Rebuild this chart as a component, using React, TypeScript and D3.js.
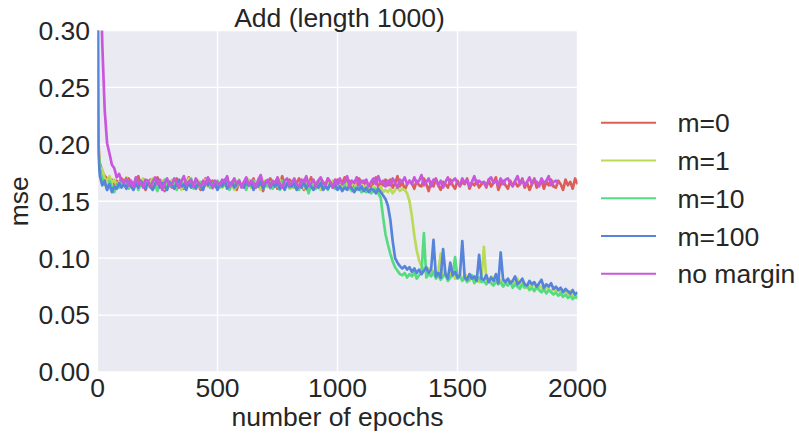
import * as d3 from 'd3';

// sample grid (epochs); values below are mse in thousandths
const epochs = [0, 2, 4, 6, 8, ...d3.range(10, 2001, 10)];

const m0 = [
  420, 260, 205, 192, 186,
  183, 176, 172, 170, 167, 169, 165, 168, 166, 170,
  168, 163, 170, 166, 161, 167, 172, 164, 166, 160,
  165, 169, 162, 167, 171, 163, 166, 159, 168, 164,
  162, 167, 170, 164, 168, 161, 166, 171, 163, 165,
  169, 164, 160, 166, 170, 165, 162, 168, 164, 167,
  163, 168, 165, 171, 162, 166, 169, 160, 167, 164,
  166, 161, 168, 164, 170, 163, 167, 165, 159, 168,
  164, 170, 163, 167, 161, 166, 172, 162, 165, 169,
  167, 162, 166, 170, 164, 160, 168, 165, 171, 163,
  165, 168, 161, 167, 163, 170, 164, 166, 162, 169,
  162, 166, 171, 164, 168, 161, 167, 163, 170, 165,
  168, 163, 165, 160, 167, 171, 162, 166, 164, 169,
  164, 169, 162, 166, 172, 163, 167, 160, 165, 168,
  166, 161, 168, 164, 163, 170, 165, 159, 167, 163,
  170, 164, 160, 167, 165, 162, 169, 164, 161, 168,
  163, 167, 165, 170, 161, 166, 164, 168, 162, 165,
  167, 162, 169, 163, 166, 171, 160, 165, 168, 164,
  161, 168, 164, 167, 163, 165, 170, 162, 166, 160,
  165, 170, 162, 166, 168, 161, 167, 164, 169, 163,
  162, 168, 165, 160, 169, 164, 167, 161, 170, 165,
];

const m1 = [
  410, 250, 200, 190, 185,
  180, 178, 170, 168, 172, 166, 169, 164, 167, 165,
  166, 171, 163, 167, 164, 169, 162, 166, 170, 164,
  163, 167, 170, 162, 166, 164, 168, 161, 165, 167,
  169, 163, 166, 164, 160, 167, 165, 170, 162, 166,
  164, 168, 162, 166, 169, 163, 165, 161, 167, 164,
  167, 162, 165, 168, 163, 166, 160, 164, 169, 163,
  163, 166, 169, 162, 165, 167, 164, 160, 166, 168,
  165, 161, 164, 167, 163, 169, 162, 166, 164, 161,
  162, 167, 163, 165, 168, 161, 166, 163, 167, 164,
  166, 163, 160, 165, 162, 167, 164, 168, 161, 165,
  163, 165, 162, 166, 160, 164, 167, 161, 163, 165,
  161, 164, 162, 159, 163, 161, 160, 163, 158, 160,
  158, 161, 157, 160, 162, 159, 161, 160, 157, 150,
  137, 120, 107, 98, 93, 90, 88, 91, 86, 89,
  85, 88, 104, 84, 87, 83, 86, 89, 82, 85,
  84, 81, 86, 83, 80, 85, 82, 84, 79, 83,
  110, 82, 79, 84, 81, 78, 83, 80, 77, 81,
  78, 80, 76, 79, 82, 75, 78, 77, 74, 77,
  75, 78, 73, 76, 74, 71, 75, 73, 70, 74,
  71, 73, 69, 72, 70, 68, 71, 67, 69, 66,
];

const m10 = [
  400, 240, 196, 188, 182,
  176, 170, 166, 160, 168, 163, 158, 165, 162, 167,
  164, 168, 161, 166, 163, 170, 160, 165, 167, 162,
  166, 162, 168, 164, 159, 167, 163, 169, 161, 165,
  163, 167, 160, 165, 168, 162, 166, 164, 170, 161,
  166, 163, 167, 161, 165, 169, 162, 166, 163, 168,
  162, 166, 164, 169, 160, 165, 167, 163, 166, 164,
  165, 160, 166, 163, 168, 162, 165, 169, 161, 164,
  163, 167, 161, 165, 164, 160, 168, 163, 166, 162,
  167, 162, 165, 160, 166, 169, 163, 157, 165, 163,
  161, 165, 168, 162, 164, 160, 166, 163, 161, 165,
  162, 160, 164, 161, 163, 159, 162, 160, 163, 158,
  161, 158, 160, 157, 159, 161, 157, 153, 136, 121,
  112, 104, 97, 92, 89, 86, 85, 87, 83, 86,
  84, 88, 82, 85, 87, 122, 83, 86, 84, 88,
  82, 85, 81, 84, 86, 80, 83, 85, 101, 82,
  84, 80, 83, 79, 82, 85, 78, 81, 83, 79,
  80, 77, 81, 78, 76, 80, 77, 79, 75, 78,
  76, 79, 74, 77, 75, 73, 77, 74, 76, 72,
  74, 71, 75, 72, 70, 73, 69, 72, 70, 68,
  70, 67, 69, 66, 68, 65, 67, 64, 66, 65,
];

const m100 = [
  405, 235, 192, 183, 178,
  172, 164, 168, 160, 165, 158, 163, 161, 166, 162,
  165, 161, 167, 163, 160, 166, 162, 168, 164, 161,
  167, 163, 160, 165, 169, 162, 166, 163, 160, 167,
  164, 161, 166, 169, 163, 165, 160, 167, 162, 165,
  161, 166, 163, 160, 167, 164, 168, 162, 165, 160,
  166, 163, 169, 161, 164, 167, 162, 165, 168, 163,
  162, 167, 164, 166, 160, 165, 163, 168, 161, 166,
  168, 162, 166, 163, 167, 161, 164, 160, 166, 163,
  163, 166, 160, 164, 162, 167, 161, 165, 163, 160,
  165, 162, 166, 160, 163, 161, 165, 162, 164, 160,
  163, 159, 162, 160, 164, 161, 158, 162, 160, 163,
  159, 162, 158, 161, 160, 157, 161, 158, 155, 152,
  146, 134, 115, 100, 96, 93, 91, 93, 90, 92,
  88, 91, 87, 90, 86, 89, 92, 87, 90, 116,
  84, 87, 83, 108, 86, 82, 96, 85, 88, 83,
  85, 115, 83, 81, 86, 82, 84, 80, 103, 82,
  81, 85, 79, 83, 80, 86, 78, 105, 81, 79,
  82, 78, 80, 84, 77, 79, 82, 77, 76, 80,
  77, 79, 75, 78, 81, 74, 77, 75, 78, 73,
  75, 72, 74, 70, 73, 71, 69, 72, 68, 70,
];

// no margin run stops at epoch 1920
const noMargin = [
  700, 600, 520, 460, 410,
  370, 288, 230, 201, 192, 182, 179, 171, 174, 168,
  166, 170, 164, 168, 163, 171, 165, 167, 162, 169,
  168, 163, 167, 171, 165, 169, 160, 166, 170, 164,
  165, 170, 166, 162, 168, 172, 164, 167, 169, 163,
  170, 166, 163, 168, 165, 171, 167, 162, 168, 166,
  164, 169, 167, 172, 163, 166, 170, 165, 168, 162,
  167, 171, 164, 168, 166, 162, 169, 173, 165, 167,
  169, 163, 168, 166, 171, 165, 162, 168, 170, 164,
  166, 170, 165, 163, 169, 167, 172, 164, 166, 169,
  163, 168, 171, 166, 164, 170, 167, 162, 169, 165,
  170, 165, 167, 172, 163, 168, 166, 171, 164, 168,
  166, 169, 163, 167, 170, 165, 172, 166, 168, 163,
  168, 164, 170, 166, 162, 169, 167, 171, 165, 168,
  165, 171, 166, 168, 173, 164, 167, 170, 163, 169,
  169, 164, 168, 162, 167, 171, 165, 168, 170, 166,
  164, 170, 166, 169, 163, 167, 172, 165, 168, 166,
  167, 163, 169, 171, 166, 168, 164, 170, 165, 169,
  170, 166, 163, 168, 172, 165, 169, 164, 167, 171,
  165, 169, 167, 163, 170, 166, 168, 172, 164, 167,
  168, 165,
];

const seriesNames = ['m=0', 'm=1', 'm=10', 'm=100', 'no margin'];
const seriesValues = [m0, m1, m10, m100, noMargin];
const colors = ['#db5f57', '#b9db57', '#57db80', '#5784db', '#c957db'];
const xTicks = [0, 500, 1000, 1500, 2000];
const yTicks = [0, 0.05, 0.1, 0.15, 0.2, 0.25, 0.3];

const W = 799;
const H = 434;
const left = 97.5;
const right = 577.5;
const top = 30.5;
const bottom = 372;
const font = '"Liberation Sans", Arial, sans-serif';
const fs = 26.5;

export default function App() {
  const x = d3.scaleLinear().domain([0, 2000]).range([left, right]);
  const y = d3.scaleLinear().domain([0, 0.3]).range([bottom, top]);
  const line = d3
    .line<number>()
    .x((_, i) => x(epochs[i]))
    .y((d) => y(d / 1000));

  return (
    <svg width={W} height={H} style={{ position: 'absolute', left: 0, top: 0, background: '#fff' }}>
      <defs>
        <clipPath id="plot">
          <rect x={left} y={top} width={right - left} height={bottom - top} />
        </clipPath>
      </defs>
      <rect x={left} y={top} width={right - left} height={bottom - top} fill="#eaeaf2" />
      {xTicks.map((t) => (
        <line key={'gx' + t} x1={x(t)} x2={x(t)} y1={top} y2={bottom} stroke="#fff" strokeWidth={1.3} />
      ))}
      {yTicks.map((t) => (
        <line key={'gy' + t} x1={left} x2={right} y1={y(t)} y2={y(t)} stroke="#fff" strokeWidth={1.3} />
      ))}
      <g clipPath="url(#plot)">
        {seriesValues.map((vals, i) => (
          <path
            key={seriesNames[i]}
            d={line(vals) ?? ''}
            fill="none"
            stroke={colors[i]}
            strokeWidth={2.7}
            strokeLinejoin="round"
          />
        ))}
      </g>
      <g fontFamily={font} fontSize={fs} fill="#262626">
        {yTicks.map((t) => (
          <text key={'ty' + t} x={left - 7.5} y={y(t) + 9.4} textAnchor="end">
            {d3.format('.2f')(t)}
          </text>
        ))}
        {xTicks.map((t) => (
          <text key={'tx' + t} x={x(t)} y={397} textAnchor="middle">
            {t}
          </text>
        ))}
        <text x={(left + right) / 2} y={426} textAnchor="middle">
          number of epochs
        </text>
        <text transform={`translate(27.5,${(top + bottom) / 2}) rotate(-90)`} textAnchor="middle">
          mse
        </text>
        <text x={(left + right) / 2 + 2} y={26.5} textAnchor="middle">
          Add (length 1000)
        </text>
        {seriesNames.map((name, i) => {
          const ly = 122.7 + i * 37.75;
          return (
            <g key={'lg' + name}>
              <line x1={601} x2={656} y1={ly} y2={ly} stroke={colors[i]} strokeWidth={2} />
              <text x={677.5} y={ly + 9.7}>
                {name}
              </text>
            </g>
          );
        })}
      </g>
    </svg>
  );
}
